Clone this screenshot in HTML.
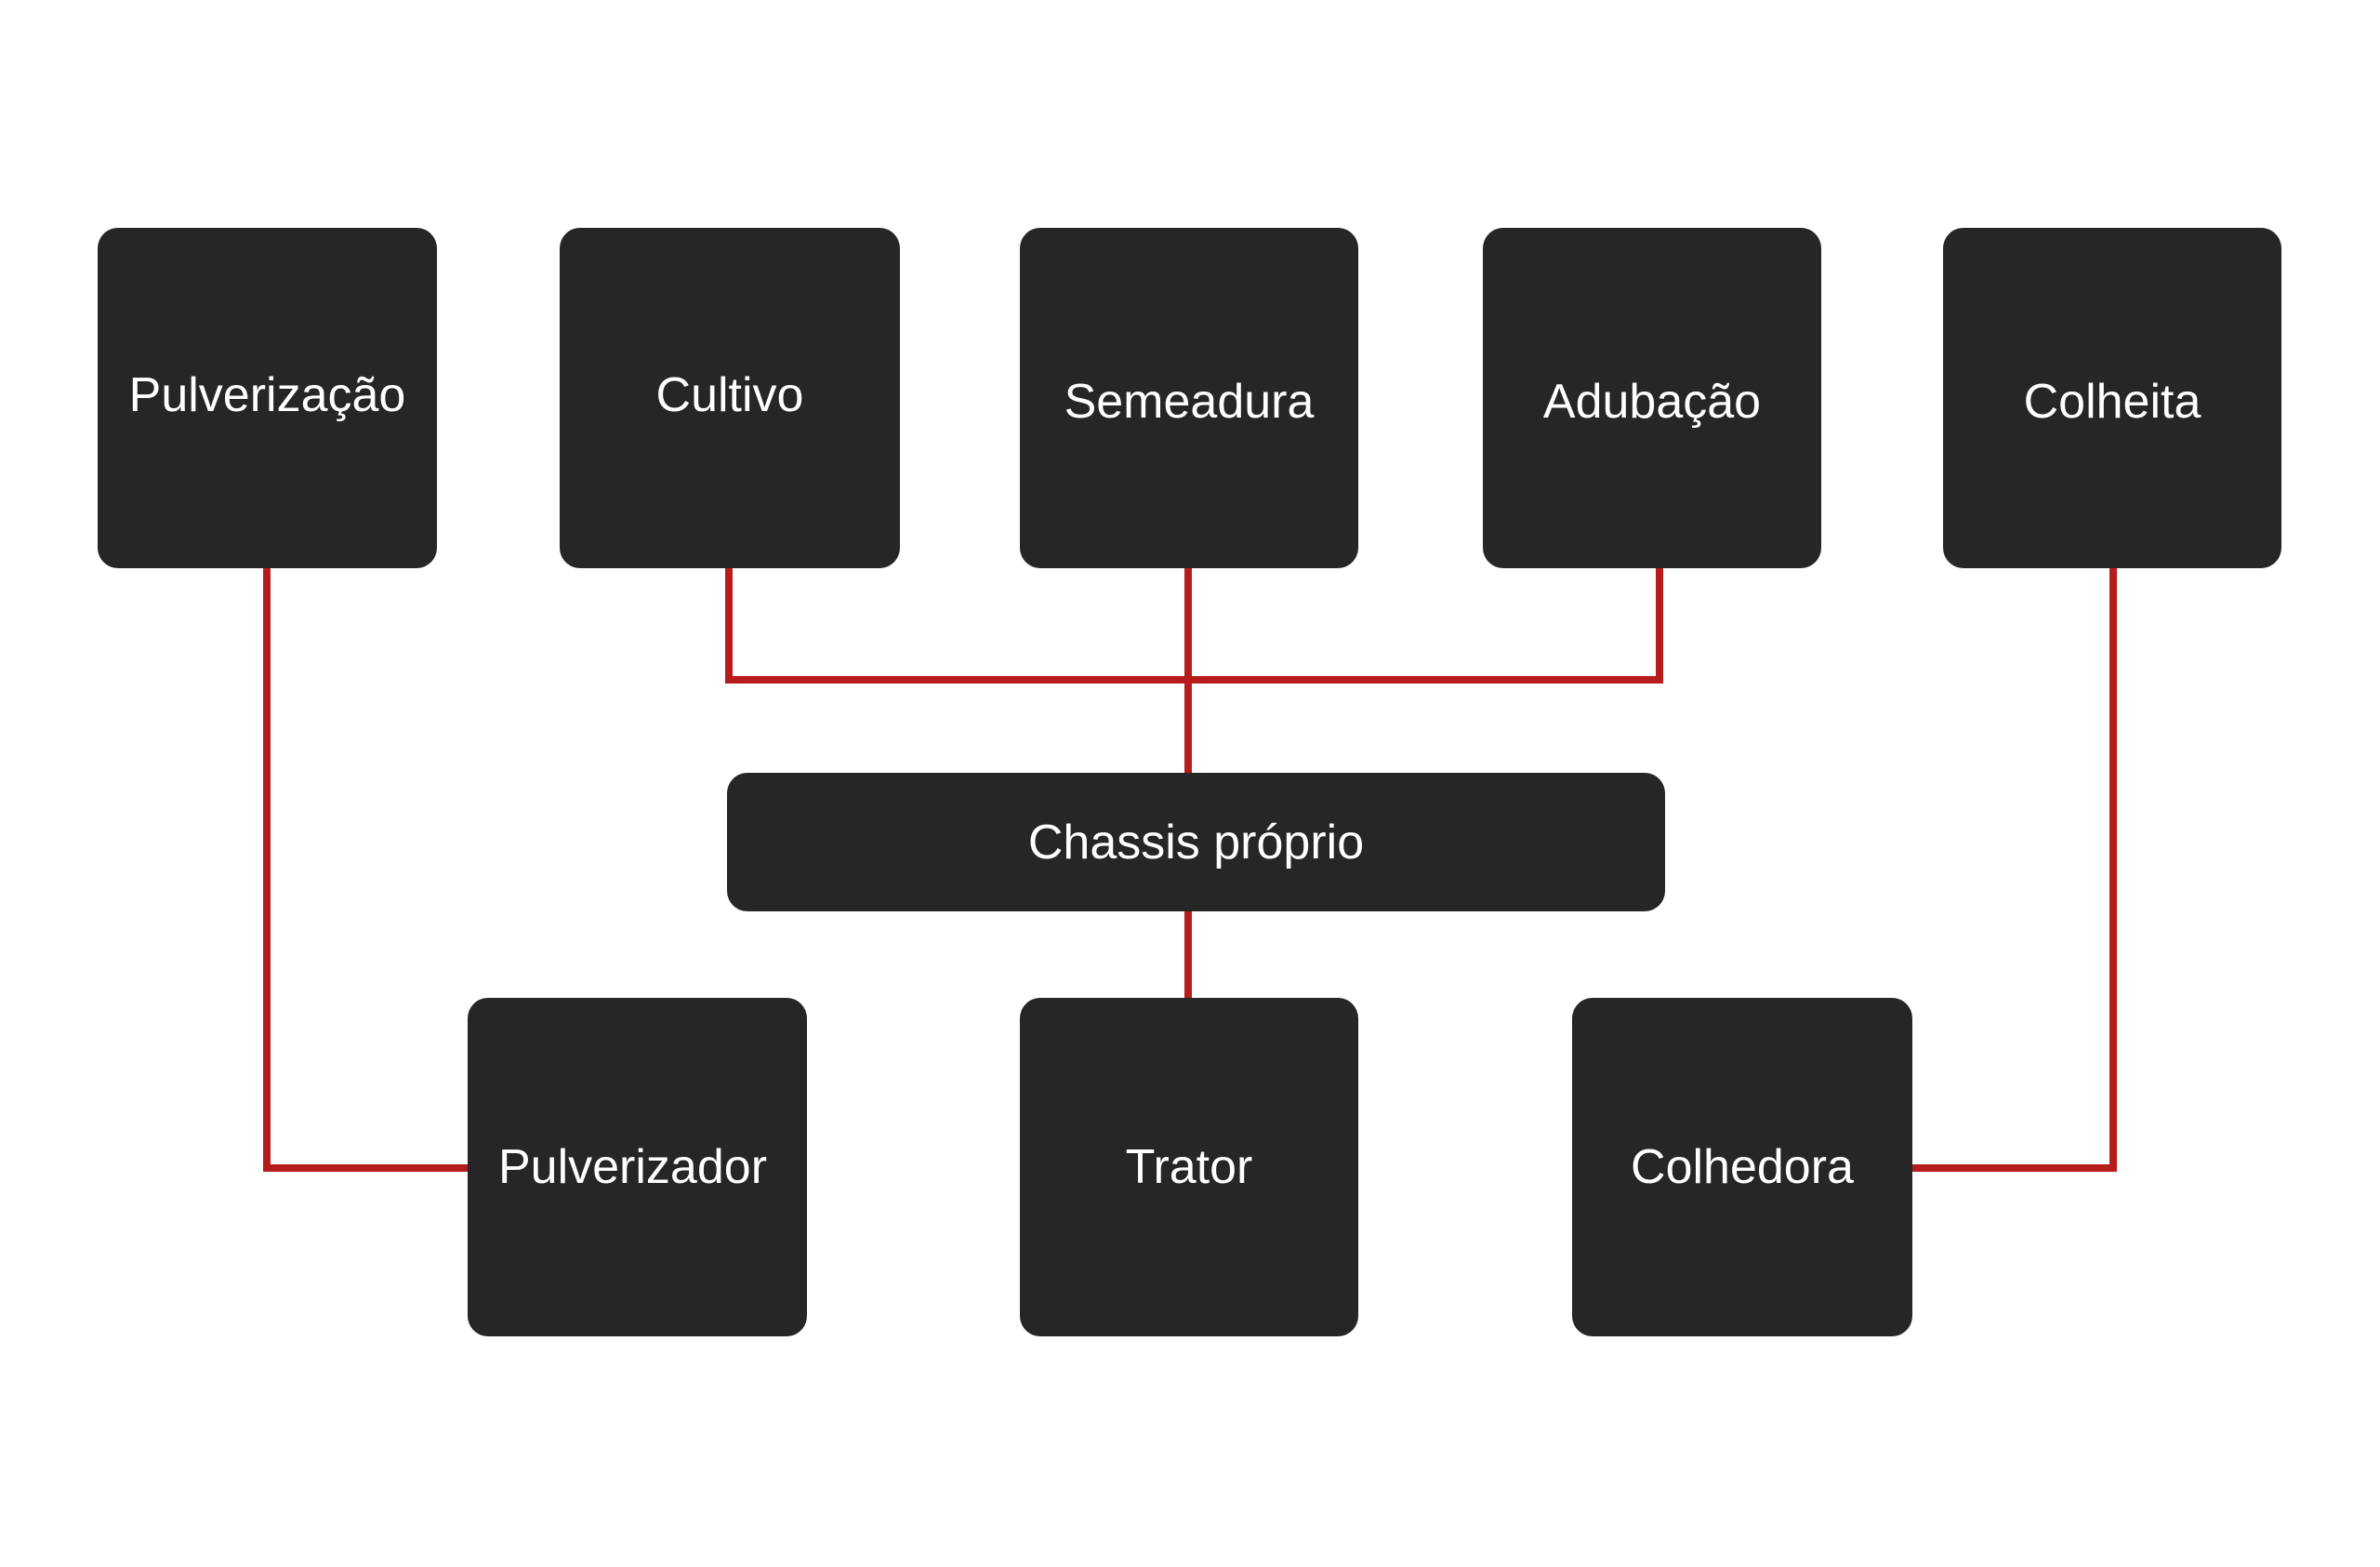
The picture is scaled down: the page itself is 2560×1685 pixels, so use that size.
<!DOCTYPE html>
<html><head><meta charset="utf-8"><style>
html,body{margin:0;padding:0;background:#fff;}
body{width:2560px;height:1685px;position:relative;overflow:hidden;font-family:"Liberation Sans",sans-serif;}
.b{position:absolute;background:#262626;border-radius:22px;color:#fff;display:flex;align-items:center;justify-content:center;font-size:52px;box-sizing:border-box;}
svg{position:absolute;left:0;top:0;}
</style></head><body>
<svg width="2560" height="1685">
<g fill="none" stroke="#b71c1c" stroke-width="8">
<polyline points="287,611 287,1256 503,1256"/>
<polyline points="784,611 784,731 1785,731 1785,611"/>
<line x1="1278" y1="611" x2="1278" y2="831"/>
<line x1="1278" y1="980" x2="1278" y2="1073"/>
<polyline points="2273,611 2273,1256 2057,1256"/>
</g>
</svg>
<div class="b" style="left:105px;top:245px;width:365px;height:366px;padding-bottom:6px;">Pulverização</div>
<div class="b" style="left:602px;top:245px;width:366px;height:366px;padding-bottom:6px;">Cultivo</div>
<div class="b" style="left:1097px;top:245px;width:364px;height:366px;padding-top:8px;">Semeadura</div>
<div class="b" style="left:1595px;top:245px;width:364px;height:366px;padding-top:8px;">Adubação</div>
<div class="b" style="left:2090px;top:245px;width:364px;height:366px;padding-top:8px;">Colheita</div>
<div class="b" style="left:782px;top:831px;width:1009px;height:149px;">Chassis próprio</div>
<div class="b" style="left:503px;top:1073px;width:365px;height:364px;padding-right:10px;">Pulverizador</div>
<div class="b" style="left:1097px;top:1073px;width:364px;height:364px;">Trator</div>
<div class="b" style="left:1691px;top:1073px;width:366px;height:364px;">Colhedora</div>
</body></html>
